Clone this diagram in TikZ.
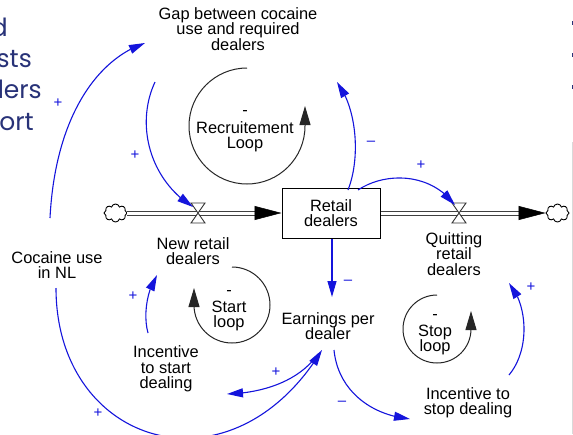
\documentclass[tikz,border=0pt]{standalone}
\usepackage{fontspec}
\setmainfont{Liberation Sans}
\newfontfamily\slidefont{Poppins}
\usetikzlibrary{arrows.meta,bending,shapes.symbols}
\definecolor{linkblue}{RGB}{20,20,220}
\definecolor{slidenavy}{RGB}{40,50,120}
\tikzset{
  var/.style={align=center, font=\fontsize{16.4}{15.3}\selectfont, inner sep=2pt},
  stock/.style={var, draw, line width=1pt, minimum width=98pt, minimum height=50pt},
  pol/.style={text=linkblue, font=\fontsize{15}{15}\selectfont, inner sep=1pt},
  link/.style={draw=linkblue, line width=1.1pt, -{Triangle[length=16pt,width=9pt]}},
  loopline/.style={draw=black!85, line width=1pt, -{Triangle[length=19pt,width=11pt]}},
  pipe/.style={draw=black!75, double=white, double distance=3pt, line width=1pt},
  flowtip/.style={draw=black, line width=0.5pt, -{Triangle[length=27pt,width=14pt]}},
  valve/.style={draw=black!80, fill=white, line width=0.9pt},
  cloudend/.style={cloud, cloud puffs=8, aspect=1.3, draw, line width=0.9pt, minimum width=23pt, minimum height=18pt, inner sep=0pt},
  frag/.style={text=slidenavy, font=\slidefont\fontsize{25}{32}\selectfont, inner sep=0pt, anchor=base east}
}
\begin{document}
\begin{tikzpicture}[x=1pt, y=-1pt]
\clip (0,0) rectangle (573,434);
\fill[white] (0,0) rectangle (573,434);
% edge of the slide
\node[frag] (fragA) at (8,36) {d};
\node[frag] (fragB) at (32,67) {sts};
\node[frag] (fragC) at (42,98) {lers};
\node[frag] (fragD) at (34,130) {ort};
\draw[slidenavy, line width=1pt] (572,21) -- (572,25);
\draw[slidenavy, line width=1pt] (572,53) -- (572,57);
\draw[slidenavy, line width=1pt] (572,85) -- (572,89);
\draw[black!15, line width=1pt] (572,142) -- (572,434);

% stock and flows
\node[stock] (retail) at (331,213) {Retail\\dealers};
\node[cloudend] (cloudL) at (115.5,213) {};
\node[cloudend] (cloudR) at (557.5,213) {};
\coordinate (newvalve) at (198,213);
\coordinate (quitvalve) at (459,213);
\draw[pipe] (cloudL.east) -- ([xshift=-14pt]retail.west);
\draw[flowtip] ([xshift=-27pt]retail.west) -- (retail.west);
\draw[pipe] (retail.east) -- ([xshift=-14pt]cloudR.west);
\draw[flowtip] ([xshift=-27pt]cloudR.west) -- (cloudR.west);
\draw[valve] ([shift={(-7,-10)}]newvalve) -- ++(14,0) -- ++(-14,20) -- ++(14,0) -- cycle;
\draw[valve] ([shift={(-7,-10)}]quitvalve) -- ++(14,0) -- ++(-14,20) -- ++(14,0) -- cycle;

% variables
\node[var] (gap) at (238,29) {Gap between cocaine\\use and required\\dealers};
\node[var] (cocaine) at (57,265) {Cocaine use\\in NL};
\node[var] (newd) at (193,251) {New retail\\dealers};
\node[var] (quit) at (454,254) {Quitting\\retail\\dealers};
\node[var] (earn) at (328,326) {Earnings per\\dealer};
\node[var] (istart) at (166,369) {Incentive\\to start\\dealing};
\node[var] (istop) at (468,403) {Incentive to\\stop dealing};

% loops
\node[var] (recruit) at (245,128.5) {\strut-\\Recruitement\\Loop};
\node[var] (startloop) at (229,308) {\strut-\\Start\\loop};
\node[var] (stoploop) at (435,332) {\strut-\\Stop\\loop};
\draw[loopline] (247,68) arc[start angle=90, end angle=360, radius=58pt] -- ++(0,-20);
\draw[loopline] (232,267) arc[start angle=90, end angle=-180, radius=38pt] -- ++(0,-17);
\draw[loopline] (437,295) arc[start angle=90, end angle=360, radius=34pt] -- ++(0,-18);

% causal links
\draw[link] ([shift={(-7,-47)}]cocaine.center) .. controls (55,120) and (95,60) .. ([shift={(-93,14)}]gap.center);
\draw[link] ([shift={(-1,23)}]cocaine.center) .. controls (56,445) and (230,500) .. ([shift={(-6,24)}]earn.center);
\draw[link] ([shift={(-83,53)}]gap.center) .. controls (135,125) and (150,180) .. ([shift={(-5,-6)}]newvalve);
\draw[link] ([shift={(17,-23)}]retail.center) .. controls (360,160) and (358,110) .. ([shift={(99,53)}]gap.center);
\draw[link] ([shift={(27,-23)}]retail.center) .. controls (385,172) and (430,172) .. ([shift={(-4,-8)}]quitvalve);
\draw[link] ([shift={(1,26)}]retail.center) -- ([shift={(4,-29)}]earn.center);
\draw[link] ([shift={(-10,28)}]earn.center) .. controls (300,380) and (265,393) .. ([shift={(61,25)}]istart.center);
\draw[link] ([shift={(-18,-36)}]istart.center) .. controls (143,315) and (147,290) .. ([shift={(-36,24)}]newd.center);
\draw[link] ([shift={(6,24)}]earn.center) .. controls (338,390) and (370,415) .. ([shift={(-58,16)}]istop.center);
\draw[link] ([shift={(41,-28)}]istop.center) .. controls (530,350) and (528,305) .. ([shift={(55,29)}]quit.center);

% polarities
\node[pol] (p1) at (58,103) {+};
\node[pol] (p2) at (98,413) {+};
\node[pol] (p3) at (135,155) {+};
\node[pol] (p4) at (371,143) {--};
\node[pol] (p5) at (421,165) {+};
\node[pol] (p6) at (348,282) {--};
\node[pol] (p7) at (276,372) {+};
\node[pol] (p8) at (133,296) {+};
\node[pol] (p9) at (342,403) {--};
\node[pol] (p10) at (531,287) {+};
\end{tikzpicture}
\end{document}
